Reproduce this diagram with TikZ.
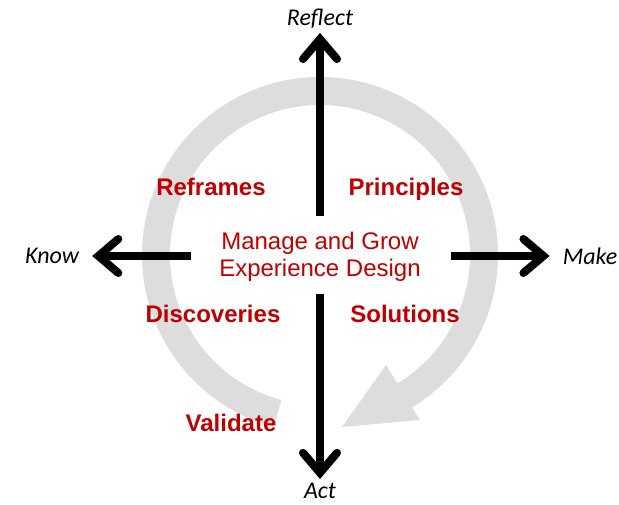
\documentclass[tikz,border=0pt]{standalone}
\usepackage{fontspec}
\setmainfont{Liberation Sans}
\newfontfamily\calibri{Carlito}
\usepackage{xcolor}
\usetikzlibrary{arrows.meta}
\definecolor{darkred}{HTML}{C00000}
\definecolor{ringgray}{HTML}{DDDDDD}

\begin{document}
\begin{tikzpicture}[x=1pt,y=1pt,
    axis/.style={line width=8pt,-{Straight Barb[length=20pt,width=34pt,line cap=round]}},
    dir/.style={font=\calibri\itshape\fontsize{24}{28}\selectfont,inner xsep=13pt,inner ysep=4pt},
    quad/.style={anchor=base,text=darkred,font=\bfseries\fontsize{24}{28}\selectfont}]
  \useasboundingbox (-320,-250) rectangle (299,255);
  \draw[ringgray,line width=28pt] (255:164) arc[start angle=255,end angle=-59,radius=164];
  \fill[ringgray] (66,-110) -- (100,-165) -- (22,-172) -- cycle;

  \node (ctr) [align=center,text=darkred,font=\fontsize{24}{27}\selectfont] at (0,-2)
    {Manage and Grow\\Experience Design};
  \node (rf) [dir] at (0,236) {Reflect};
  \node (ac) [dir] at (0,-236) {Act};
  \node (kn) [dir] at (-268,-1) {Know};
  \node (mk) [dir] at (270,-1) {Make};
  \node (rfr) [quad] at (-109,59) {Reframes};
  \node (prn) [quad] at (86,59) {Principles};
  \node (dsc) [quad] at (-107,-68) {Discoveries};
  \node (sol) [quad] at (85,-68) {Solutions};
  \node (val) [quad] at (-89,-177) {Validate};

  \path (0,39) coordinate (up) (0,-39) coordinate (dn)
    (-129,-1) coordinate (lt) (131,-1) coordinate (rt);
  \draw[axis] (up) -- (rf);
  \draw[axis] (dn) -- (ac);
  \draw[axis] (lt) -- (kn);
  \draw[axis] (rt) -- (mk);
\end{tikzpicture}
\end{document}
